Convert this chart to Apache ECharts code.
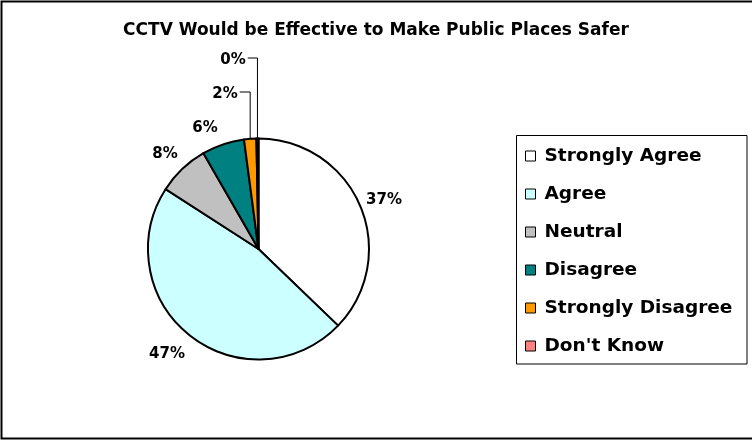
<!DOCTYPE html>
<html>
<head>
<meta charset="utf-8">
<script src="https://cdn.jsdelivr.net/npm/echarts@6/dist/echarts.min.js"></script>
<style>
html,body{margin:0;padding:0;background:#fff;}
#chart{width:752px;height:440px;}
</style>
</head>
<body>
<div id="chart"></div>
<script>
const titleText = 'CCTV Would be Effective to Make Public Places Safer';
const categories = ['Strongly Agree', 'Agree', 'Neutral', 'Disagree', 'Strongly Disagree', "Don't Know"];
const values = [37.2, 46.9, 7.6, 6.2, 1.8, 0.3];
const palette = ['#FFFFFF', '#CCFFFF', '#C0C0C0', '#008080', '#FF9900', '#FF8080'];

// label placement (centre of each percentage label)
const labelPos = [[384, 200], [167, 354], [165, 154], [205, 128], [225, 94], [233, 60]];
const FONT = 'DejaVu Sans';

const chart = echarts.init(document.getElementById('chart'), null, {renderer: 'canvas'});
const option = {
  animation: false,
  backgroundColor: '#ffffff',
  title: {
    text: titleText,
    left: 'center',
    top: 22,
    padding: 0,
    textStyle: {fontFamily: FONT, fontWeight: 'bold', fontSize: 17, color: '#000'}
  },
  legend: {
    orient: 'vertical',
    left: 525,
    top: 146,
    padding: 0,
    itemWidth: 10,
    itemHeight: 10,
    itemGap: 18,
    icon: 'rect',
    itemStyle: {borderColor: '#000', borderWidth: 1},
    textStyle: {fontFamily: FONT, fontWeight: 'bold', fontSize: 18.5, color: '#000', lineHeight: 20, padding: [0, 0, 0, 4]},
    data: categories
  },
  graphic: [
    {type: 'rect', shape: {x: 1.5, y: 1.5, width: 800, height: 437}, style: {fill: null, stroke: '#000', lineWidth: 2}, silent: true},
    {type: 'rect', shape: {x: 516.5, y: 135.5, width: 230.5, height: 228.5}, style: {fill: null, stroke: '#000', lineWidth: 1}, silent: true, z: -1}
  ],
  series: [{
    type: 'pie',
    center: [258.5, 249],
    radius: 110.5,
    startAngle: 90,
    clockwise: true,
    avoidLabelOverlap: false,
    emphasis: {disabled: true},
    itemStyle: {borderColor: '#000', borderWidth: 2},
    label: {
      show: true,
      position: 'outside',
      formatter: p => Math.round(p.percent) + '%',
      fontFamily: FONT, fontWeight: 'bold', fontSize: 15, color: '#000'
    },
    labelLine: {show: true, lineStyle: {color: '#000', width: 1}},
    labelLayout: function (params) {
      const i = params.dataIndex;
      const pos = labelPos[i];
      const res = {x: pos[0], y: pos[1], align: 'center', verticalAlign: 'middle'};
      if (i >= 4 && params.labelLinePoints) {
        const start = params.labelLinePoints[0];
        const ly = pos[1] - 2;
        const lx = pos[0] + params.labelRect.width / 2 + 2;
        res.labelLinePoints = [[start[0], start[1]], [start[0], ly], [lx, ly]];
      }
      return res;
    },
    data: categories.map((name, i) => ({
      name: name,
      value: values[i],
      itemStyle: {color: palette[i]},
      labelLine: {show: i >= 4}
    }))
  }]
};
chart.setOption(option);
</script>
</body>
</html>
